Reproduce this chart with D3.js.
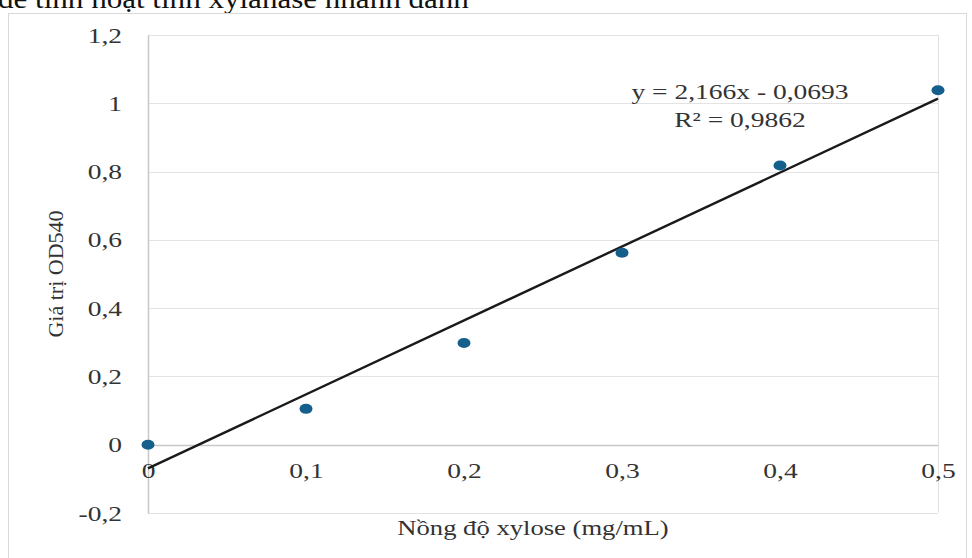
<!DOCTYPE html>
<html>
<head>
<meta charset="utf-8">
<script src="https://cdn.jsdelivr.net/npm/d3@7"></script>
<style>
  body { margin: 0; background: #fff; }
  text { font-family: "Liberation Serif", "Times New Roman", serif; }
</style>
</head>
<body>
<div id="chart"></div>
<script>
// Data
const xValues = [0, 0.1, 0.2, 0.3, 0.4, 0.5];
const odValues = [0, 0.105, 0.298, 0.562, 0.818, 1.038];
const yTicks = [-0.2, 0, 0.2, 0.4, 0.6, 0.8, 1, 1.2];
const xTicks = [0, 0.1, 0.2, 0.3, 0.4, 0.5];
const slope = 2.166;
const intercept = -0.0693;
const eqLines = ["y = 2,166x - 0,0693", "R² = 0,9862"];
const captionText = "để tính hoạt tính xylanase nhanh đánh";

const W = 972, H = 558;
const plot = { left: 148, right: 938, top: 35, bottom: 513 };
const fontSize = "22px";
const textColor = "#333";
const widen = 1.25; // the source image is stretched sideways

// stretch text horizontally, keeps its anchor
function stretch(sel, f) {
  sel.each(function() {
    const len = this.getComputedTextLength();
    d3.select(this)
      .attr("textLength", len * f)
      .attr("lengthAdjust", "spacingAndGlyphs");
  });
}

const svg = d3.select("#chart")
  .append("svg")
    .attr("width", W)
    .attr("height", H);

// cut-off caption line above the chart frame
const caption = svg.append("text")
  .attr("x", -2)
  .attr("y", 8)
  .style("font-size", "27px")
  .attr("fill", "#111")
  .text(captionText);
stretch(caption, 1.15);

// chart frame
svg.append("rect")
  .attr("x", 8.5).attr("y", 13.5)
  .attr("width", 958).attr("height", 560)
  .attr("fill", "#fff")
  .attr("stroke", "#d9d9d9");

const x = d3.scaleLinear().domain([0, 0.5]).range([plot.left, plot.right]);
const y = d3.scaleLinear().domain([-0.2, 1.2]).range([plot.bottom, plot.top]);
const comma = d => String(d).replace(".", ",");

// gridlines
svg.append("g")
  .selectAll("line")
  .data(yTicks)
  .join("line")
    .attr("x1", plot.left).attr("x2", plot.right)
    .attr("y1", d => Math.round(y(d)) + 0.5)
    .attr("y2", d => Math.round(y(d)) + 0.5)
    .attr("stroke", d => d === 0 ? "#c8c8c8" : "#e3e3e3")
    .attr("stroke-width", d => d === 0 ? 1.5 : 1);

// right edge of plot area
svg.append("line")
  .attr("x1", plot.right + 0.5).attr("x2", plot.right + 0.5)
  .attr("y1", plot.top).attr("y2", plot.bottom)
  .attr("stroke", "#e0e0e0");

// y axis
const yAxis = svg.append("g")
  .attr("transform", `translate(${plot.left},0)`)
  .call(d3.axisLeft(y).tickValues(yTicks).tickSize(0).tickPadding(26).tickFormat(comma));
yAxis.select(".domain").attr("stroke", "#c8c8c8").attr("stroke-width", 1.5);
yAxis.selectAll("text")
  .style("font-size", fontSize)
  .style("font-family", "Liberation Serif, serif")
  .attr("fill", textColor)
  .call(stretch, widen);

// x axis labels sit under the y=0 line
const xAxis = svg.append("g")
  .attr("transform", `translate(0,${y(0)})`)
  .call(d3.axisBottom(x).tickValues(xTicks).tickSize(0).tickPadding(18).tickFormat(comma));
xAxis.select(".domain").remove();
xAxis.selectAll("text")
  .style("font-size", fontSize)
  .style("font-family", "Liberation Serif, serif")
  .attr("fill", textColor)
  .call(stretch, widen);

// trendline
const lineGen = d3.line()
  .x(d => x(d))
  .y(d => y(slope * d + intercept));
svg.append("path")
  .datum(d3.extent(xValues))
  .attr("fill", "none")
  .attr("stroke", "#1a1a1a")
  .attr("stroke-width", 2.4)
  .attr("d", lineGen);

// markers
svg.selectAll(".pt")
  .data(xValues)
  .join("ellipse")
    .attr("class", "pt")
    .attr("cx", d => x(d))
    .attr("cy", (d, i) => y(odValues[i]))
    .attr("rx", 6.5)
    .attr("ry", 5)
    .attr("fill", "#155f8c");

// equation label
svg.selectAll(".eq")
  .data(eqLines)
  .join("text")
    .attr("class", "eq")
    .attr("x", 740)
    .attr("y", (d, i) => 99 + i * 28)
    .attr("text-anchor", "middle")
    .style("font-size", fontSize)
    .attr("fill", textColor)
    .text(d => d)
    .call(stretch, widen);

// axis titles
svg.append("text")
  .attr("x", 533)
  .attr("y", 535)
  .attr("text-anchor", "middle")
  .style("font-size", fontSize)
  .attr("fill", textColor)
  .text("Nồng độ xylose (mg/mL)")
  .call(stretch, 1.21);

svg.append("text")
  .attr("transform", `translate(63,${(plot.top + plot.bottom) / 2}) rotate(-90)`)
  .attr("text-anchor", "middle")
  .style("font-size", fontSize)
  .attr("fill", textColor)
  .text("Giá trị OD540");
</script>
</body>
</html>
